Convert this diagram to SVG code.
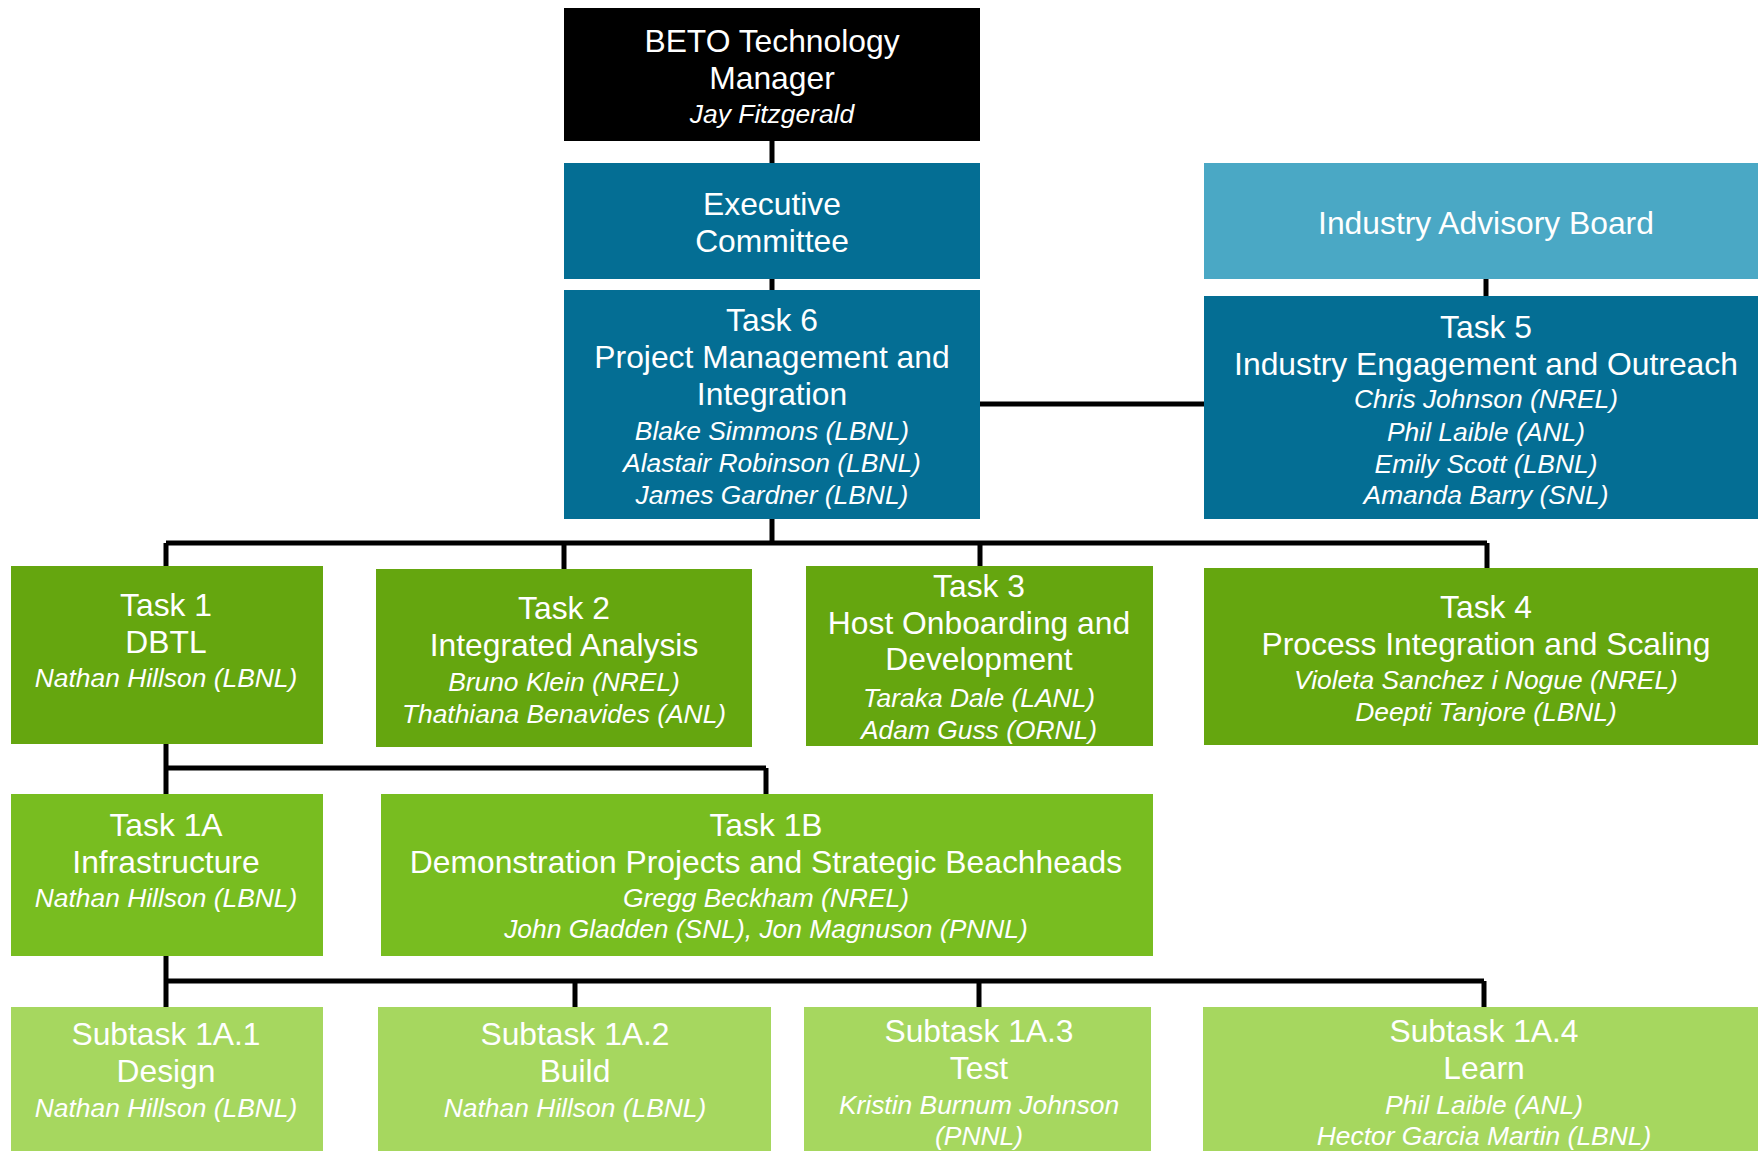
<svg xmlns="http://www.w3.org/2000/svg" width="1758" height="1151" viewBox="0 0 1758 1151">
<style>
text{font-family:"Liberation Sans",Arial,sans-serif;fill:#fff;text-anchor:middle}
.t{font-size:31.8px}
.n{font-size:26.4px;font-style:italic}
.blk{fill:#000}
.dk{fill:#046e94}
.lt{fill:#4aa8c5}
.g1{fill:#65a60f}
.g2{fill:#78bd20}
.g3{fill:#a6d75f}
.c{fill:none;stroke:#000;stroke-width:5}
</style>
<g id="connectors">
<path class="c" d="M772 141V163M772 278V291M772 519V543M980 404H1204M1486 278V297"/>
<path class="c" d="M166 543H1487M166 543V567M564 543V570M980 543V567M1487 543V569"/>
<path class="c" d="M166 743V768H766M166 768V795M766 768V795"/>
<path class="c" d="M166 955V981H1484M166 981V1008M575 981V1008M979 981V1008M1484 981V1008"/>
</g>
<g id="beto">
<rect class="blk" x="564" y="8" width="416" height="133"/>
<text class="t" x="772" y="52">BETO Technology</text>
<text class="t" x="772" y="89">Manager</text>
<text class="n" x="772" y="123">Jay Fitzgerald</text>
</g>
<g id="exec">
<rect class="dk" x="564" y="163" width="416" height="116"/>
<text class="t" x="772" y="215">Executive</text>
<text class="t" x="772" y="252">Committee</text>
</g>
<g id="task6">
<rect class="dk" x="564" y="290" width="416" height="229"/>
<text class="t" x="772" y="331">Task 6</text>
<text class="t" x="772" y="368">Project Management and</text>
<text class="t" x="772" y="405">Integration</text>
<text class="n" x="772" y="440">Blake Simmons (LBNL)</text>
<text class="n" x="772" y="472">Alastair Robinson (LBNL)</text>
<text class="n" x="772" y="504">James Gardner (LBNL)</text>
</g>
<g id="iab">
<rect class="lt" x="1204" y="163" width="564" height="116"/>
<text class="t" x="1486" y="234">Industry Advisory Board</text>
</g>
<g id="task5">
<rect class="dk" x="1204" y="296" width="564" height="223"/>
<text class="t" x="1486" y="338">Task 5</text>
<text class="t" x="1486" y="375">Industry Engagement and Outreach</text>
<text class="n" x="1486" y="408">Chris Johnson (NREL)</text>
<text class="n" x="1486" y="441">Phil Laible (ANL)</text>
<text class="n" x="1486" y="473">Emily Scott (LBNL)</text>
<text class="n" x="1486" y="504">Amanda Barry (SNL)</text>
</g>
<g id="task1">
<rect class="g1" x="11" y="566" width="312" height="178"/>
<text class="t" x="166" y="616">Task 1</text>
<text class="t" x="166" y="653">DBTL</text>
<text class="n" x="166" y="687">Nathan Hillson (LBNL)</text>
</g>
<g id="task2">
<rect class="g1" x="376" y="569" width="376" height="178"/>
<text class="t" x="564" y="619">Task 2</text>
<text class="t" x="564" y="656">Integrated Analysis</text>
<text class="n" x="564" y="691">Bruno Klein (NREL)</text>
<text class="n" x="564" y="723">Thathiana Benavides (ANL)</text>
</g>
<g id="task3">
<rect class="g1" x="806" y="566" width="347" height="180"/>
<text class="t" x="979" y="597">Task 3</text>
<text class="t" x="979" y="634">Host Onboarding and</text>
<text class="t" x="979" y="670">Development</text>
<text class="n" x="979" y="707">Taraka Dale (LANL)</text>
<text class="n" x="979" y="739">Adam Guss (ORNL)</text>
</g>
<g id="task4">
<rect class="g1" x="1204" y="568" width="564" height="177"/>
<text class="t" x="1486" y="618">Task 4</text>
<text class="t" x="1486" y="655">Process Integration and Scaling</text>
<text class="n" x="1486" y="689">Violeta Sanchez i Nogue (NREL)</text>
<text class="n" x="1486" y="721">Deepti Tanjore (LBNL)</text>
</g>
<g id="task1a">
<rect class="g2" x="11" y="794" width="312" height="162"/>
<text class="t" x="166" y="836">Task 1A</text>
<text class="t" x="166" y="873">Infrastructure</text>
<text class="n" x="166" y="907">Nathan Hillson (LBNL)</text>
</g>
<g id="task1b">
<rect class="g2" x="381" y="794" width="772" height="162"/>
<text class="t" x="766" y="836">Task 1B</text>
<text class="t" x="766" y="873">Demonstration Projects and Strategic Beachheads</text>
<text class="n" x="766" y="907">Gregg Beckham (NREL)</text>
<text class="n" x="766" y="938">John Gladden (SNL), Jon Magnuson (PNNL)</text>
</g>
<g id="sub1">
<rect class="g3" x="11" y="1007" width="312" height="150"/>
<text class="t" x="166" y="1045">Subtask 1A.1</text>
<text class="t" x="166" y="1082">Design</text>
<text class="n" x="166" y="1117">Nathan Hillson (LBNL)</text>
</g>
<g id="sub2">
<rect class="g3" x="378" y="1007" width="393" height="150"/>
<text class="t" x="575" y="1045">Subtask 1A.2</text>
<text class="t" x="575" y="1082">Build</text>
<text class="n" x="575" y="1117">Nathan Hillson (LBNL)</text>
</g>
<g id="sub3">
<rect class="g3" x="804" y="1007" width="347" height="150"/>
<text class="t" x="979" y="1042">Subtask 1A.3</text>
<text class="t" x="979" y="1079">Test</text>
<text class="n" x="979" y="1114">Kristin Burnum Johnson</text>
<text class="n" x="979" y="1145">(PNNL)</text>
</g>
<g id="sub4">
<rect class="g3" x="1203" y="1007" width="565" height="150"/>
<text class="t" x="1484" y="1042">Subtask 1A.4</text>
<text class="t" x="1484" y="1079">Learn</text>
<text class="n" x="1484" y="1114">Phil Laible (ANL)</text>
<text class="n" x="1484" y="1145">Hector Garcia Martin (LBNL)</text>
</g>
</svg>
